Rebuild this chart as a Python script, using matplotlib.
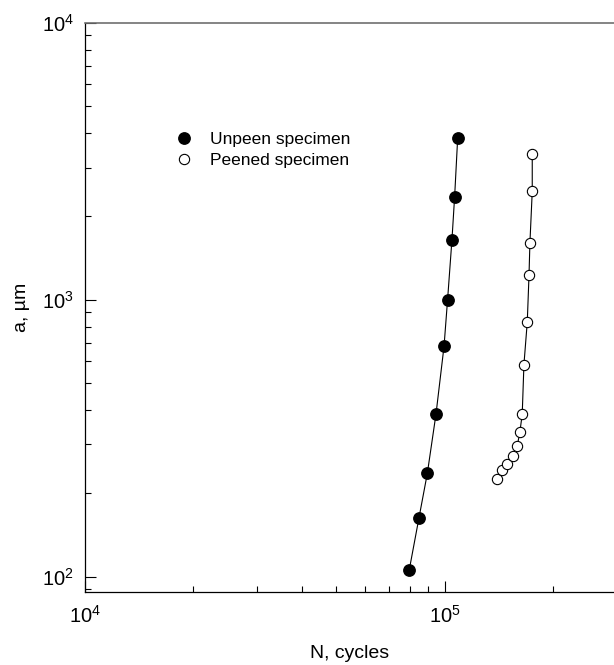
import matplotlib
matplotlib.use("Agg")
import matplotlib.pyplot as plt
from matplotlib.ticker import LogLocator, NullFormatter
from matplotlib.lines import Line2D

plt.rcParams['font.family'] = ['Liberation Sans', 'DejaVu Sans']
plt.rcParams['mathtext.fontset'] = 'custom'
plt.rcParams['mathtext.rm'] = 'Liberation Sans'
plt.rcParams['mathtext.it'] = 'Liberation Sans:italic'

# Data
unpeen_N = [79700, 84800, 89500, 94600, 99600, 101900, 104800, 106600, 108700]
unpeen_a = [105.7, 162.6, 236, 386, 678, 1000, 1648, 2350, 3820]

peened_N = [140100, 144300, 149400, 154600, 159200, 162000, 164400, 166200,
            169800, 171700, 172700, 175300, 175300]
peened_a = [225, 242, 255, 273, 296, 334, 386, 583, 830, 1225, 1603, 2460, 3363]

legend_labels = ["Unpeen specimen", "Peened specimen"]
x_label = "N, cycles"
y_label = "a, µm"

fig = plt.figure(figsize=(6.14, 6.65), dpi=100)
ax = fig.add_axes([85.3 / 614, 1 - 592.3 / 665, 1 - 85.3 / 614, (592.3 - 22.7) / 665])

ax.plot(unpeen_N, unpeen_a, color='black', lw=0.8, marker='o', ms=8.2,
        mfc='black', mec='black', zorder=3)
ax.plot(peened_N, peened_a, color='black', lw=0.8, marker='o', ms=7.4,
        mfc='white', mec='black', mew=0.8, zorder=3)

ax.set_xscale('log')
ax.set_yscale('log')
ax.set_xlim(1e4, 2.96e5)
ax.set_ylim(87.8, 1e4)

ax.xaxis.set_major_locator(LogLocator(base=10, numticks=10))
ax.yaxis.set_major_locator(LogLocator(base=10, numticks=10))
ax.xaxis.set_minor_locator(LogLocator(base=10, subs=range(2, 10), numticks=20))
ax.yaxis.set_minor_locator(LogLocator(base=10, subs=range(2, 10), numticks=20))
ax.xaxis.set_minor_formatter(NullFormatter())
ax.yaxis.set_minor_formatter(NullFormatter())

ax.tick_params(which='major', direction='in', length=8, width=0.8, labelsize=14.5,
               color='black', top=False, right=False)
ax.tick_params(which='minor', direction='in', length=4.5, width=0.8,
               top=False, right=False)
ax.tick_params(axis='x', which='major', pad=9)
ax.tick_params(axis='y', which='major', pad=8)

for s in ['left', 'bottom']:
    ax.spines[s].set_linewidth(0.9)
    ax.spines[s].set_color('black')
ax.spines['top'].set_linewidth(1.2)
ax.spines['top'].set_color('#707070')
ax.spines['right'].set_visible(False)

ax.set_xlabel(x_label, fontsize=14, labelpad=13)
ax.set_ylabel(y_label, fontsize=14, labelpad=9)

handles = [
    Line2D([], [], ls='none', marker='o', ms=8.2, mfc='black', mec='black'),
    Line2D([], [], ls='none', marker='o', ms=7.4, mfc='white', mec='black', mew=0.8),
]
ax.legend(handles, legend_labels, loc='upper left', frameon=False,
          fontsize=12.5, handlelength=1.0, handletextpad=1.0,
          labelspacing=0.35, borderaxespad=0,
          bbox_to_anchor=(168 / 614, 1 - 125 / 665), bbox_transform=fig.transFigure)

fig.savefig('out.png', dpi=100)
